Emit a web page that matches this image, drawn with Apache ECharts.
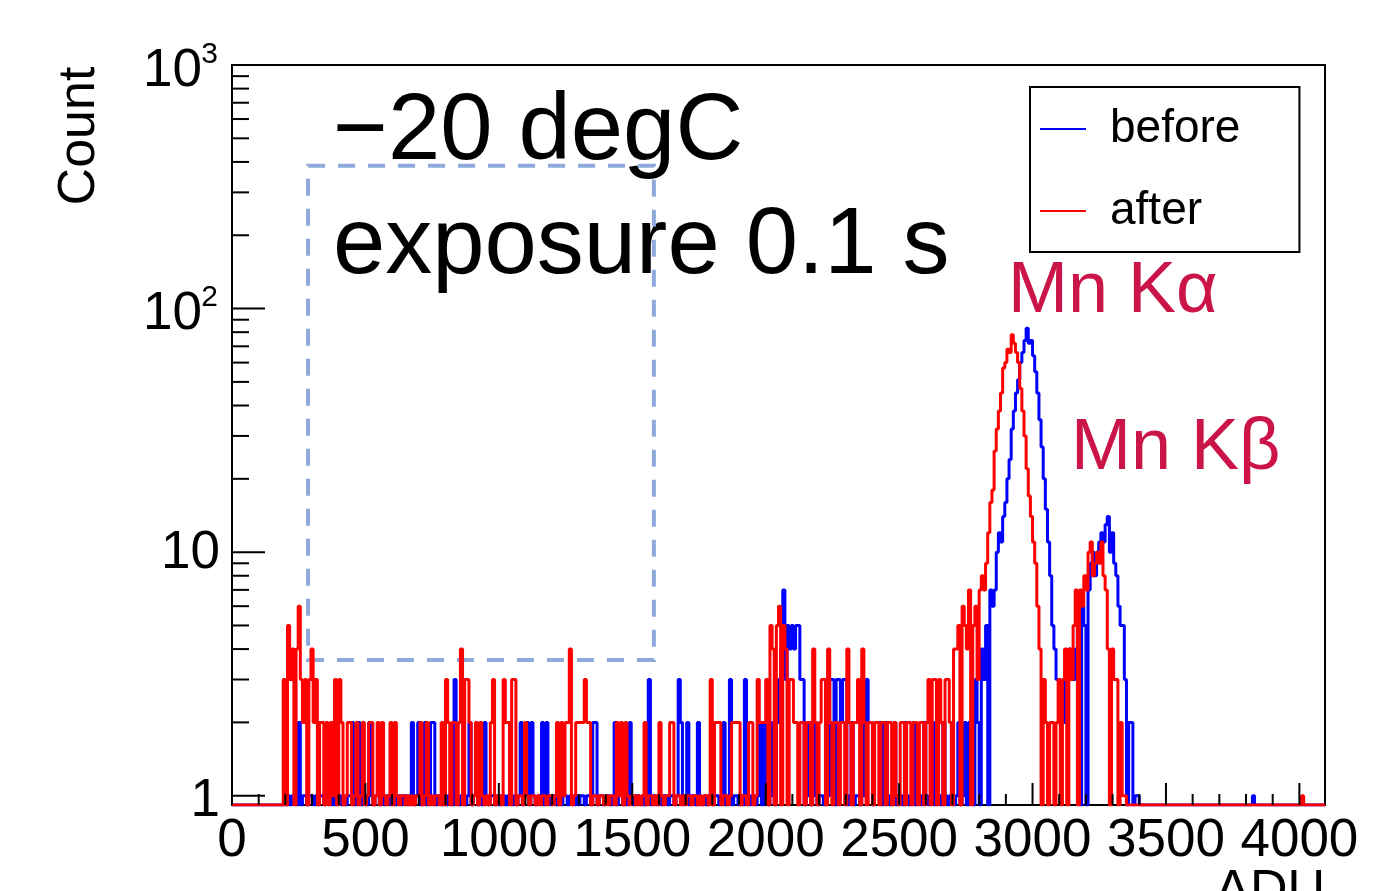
<!DOCTYPE html>
<html>
<head>
<meta charset="utf-8">
<script src="https://cdn.jsdelivr.net/npm/echarts@6/dist/echarts.min.js"></script>
<style>
html,body{margin:0;padding:0;background:#fff;}
#chart{width:1378px;height:891px;}
</style>
</head>
<body>
<div id="chart"></div>
<script>
// ---- data (histogram counts, 8-ADU bins starting at ADU 192) ----
const binWidth = 8;
const binStart = 192;
const xMax = 4096;
const yMin = 0.916;
const yMax = 1000;

const after = [
3,0,5,3,4,0,4,6,3,2,3,0,3,4,2,3,0,2,2,0,
2,0,2,1,3,0,3,2,0,1,2,2,0,1,2,0,1,2,0,1,
2,2,0,1,2,0,2,1,0,1,2,0,2,1,0,1,1,0,1,0,
1,0,1,1,2,0,1,2,0,1,0,1,1,0,2,0,3,2,0,2,
2,0,2,4,0,3,3,2,0,1,2,0,2,1,0,1,0,2,3,0,
1,1,0,3,2,2,0,3,3,0,1,1,0,2,1,0,1,1,0,1,
0,1,1,0,1,1,0,1,2,0,2,1,2,2,4,0,1,2,2,2,
2,3,2,2,0,1,1,0,1,1,0,1,0,1,1,0,2,1,2,0,
2,1,0,1,1,0,1,0,1,2,0,1,1,0,1,0,2,1,0,1,
1,2,2,0,1,1,0,1,0,1,1,0,1,1,0,1,0,1,1,0,
3,0,2,2,2,0,1,1,0,1,2,2,2,2,0,1,1,0,2,2,
0,1,3,2,2,2,3,0,5,4,0,5,6,0,5,4,0,3,3,2,
2,0,2,2,0,2,2,0,4,2,0,2,3,3,0,4,2,0,2,2,
0,2,2,0,4,2,0,2,2,3,0,4,2,0,2,2,0,2,2,0,
2,2,0,2,2,0,2,1,0,2,2,0,2,2,0,2,2,0,2,2,
0,2,3,0,3,3,0,3,2,0,3,3,2,0,4,4,5,0,6,5,
4,7,0,5,6,3,7,8,7,9,12,16,18,26,32,38,45,57,60,68,
66,78,72,66,60,47,38,30,22,17,14,11,9,6,4,0,3,2,0,2,
2,0,2,3,0,3,4,0,4,3,5,7,0,7,6,8,7,10,11,8,
9,10,9,11,8,7,4,0,4,3,3,0,2,1,1,0,0,0,0,0,0,0,0,0
];

const before = [
0,0,1,0,1,1,0,2,0,1,1,0,1,1,0,1,0,1,1,0,
1,1,0,1,0,1,1,0,1,0,1,1,2,0,1,2,0,1,1,0,
2,1,0,1,1,0,1,0,1,1,0,1,0,1,1,0,1,1,0,1,
2,0,1,2,0,1,2,0,1,2,2,0,1,1,0,1,0,1,1,0,
3,1,0,1,1,0,1,2,0,1,1,0,1,0,2,1,0,1,1,0,
1,0,1,1,0,1,1,0,1,0,1,2,0,1,2,0,2,1,0,1,
1,2,0,2,1,0,1,1,0,1,0,1,1,0,1,1,0,1,0,1,
1,0,1,1,0,2,2,0,1,1,0,1,1,0,1,2,0,1,1,0,
1,0,2,1,0,1,1,0,1,0,1,3,0,1,1,0,1,0,1,1,
0,1,1,0,1,3,2,0,1,2,0,1,1,0,2,1,0,1,0,1,
1,0,1,1,0,1,2,0,1,3,0,1,1,0,1,0,3,1,0,1,
1,0,1,2,0,2,1,0,2,1,0,2,3,4,7,3,5,4,5,4,
5,5,3,3,0,1,2,0,1,2,0,1,1,0,2,1,3,3,0,3,
3,2,3,3,0,1,2,0,1,1,0,2,1,3,2,2,0,2,2,2,
0,2,2,1,0,1,2,0,1,1,0,2,1,0,1,2,0,1,1,0,
2,1,0,1,2,0,1,1,0,2,1,0,1,2,0,1,2,0,1,2,
0,2,2,0,3,2,0,4,3,5,0,7,6,7,10,12,11,14,16,20,
24,32,38,45,51,60,66,74,83,72,74,64,55,45,35,27,20,15,11,8,
5,4,3,3,2,3,2,3,4,3,3,4,5,0,6,5,0,7,9,10,
8,10,11,12,11,13,14,10,12,9,8,6,5,5,3,0,2,2,0,1,1,0,0,0
];

// isolated counts beyond the main range [ADU, count]
const beforeExtra = [[3824, 1]];
const afterExtra = [[4008, 1]];

// axis ticks
const xMajorTicks = [0, 500, 1000, 1500, 2000, 2500, 3000, 3500, 4000];
const yMajorTicks = [1, 10, 100, 1000];
const xMinorTicks = [];
for (let v = 100; v < 4000; v += 100) if (v % 500 !== 0) xMinorTicks.push(v);
const yMinorTicks = [];
[1, 10, 100].forEach(d => { for (let k = 2; k <= 9; k++) yMinorTicks.push(k * d); });

// annotation box (data coords)
const boxX = [285, 1581];
const boxY = [3.61, 386];

// ---- build histogram step lines ----
function buildSteps(vals, extra) {
  const nb = Math.ceil(xMax / binWidth);
  const counts = new Array(nb).fill(0);
  const off = binStart / binWidth;
  vals.forEach((v, i) => { counts[off + i] = v; });
  extra.forEach(([x, c]) => { counts[Math.floor(x / binWidth)] = c; });
  const pts = counts.map((c, k) => [k * binWidth, c > 0 ? c : yMin]);
  pts.push([xMax, yMin]);
  return pts;
}

const FONT = 'Liberation Sans, Arial, Helvetica, sans-serif';
const chart = echarts.init(document.getElementById('chart'));

const option = {
  animation: false,
  backgroundColor: '#fff',
  grid: {
    left: 232, top: 65, width: 1093, height: 740,
    show: true, borderColor: '#000', borderWidth: 2, backgroundColor: 'transparent'
  },
  legend: {
    data: ['before', 'after'],
    orient: 'vertical',
    left: 1030, top: 87,
    padding: [15, 59, 14, 10],
    itemGap: 28,
    itemWidth: 46, itemHeight: 2,
    icon: 'rect',
    borderColor: '#000', borderWidth: 2,
    backgroundColor: '#fff',
    textStyle: { fontSize: 46, lineHeight: 46, color: '#000', fontFamily: FONT, padding: [8, 0, 0, 19] }
  },
  xAxis: {
    type: 'value', min: 0, max: xMax, interval: 500,
    axisLine: { show: false }, axisTick: { show: false }, splitLine: { show: false },
    axisLabel: {
      fontSize: 53, color: '#000', fontFamily: FONT, margin: 10,
      formatter: v => (v % 500 === 0 && v <= 4000) ? String(v) : ''
    }
  },
  yAxis: {
    type: 'log', logBase: 10, min: yMin, max: yMax,
    axisLine: { show: false }, axisTick: { show: false }, splitLine: { show: false },
    axisLabel: { show: false }
  },
  series: [
    {
      name: 'before', type: 'line', step: 'end', symbol: 'none',
      color: '#0000ff',
      lineStyle: { color: '#0000ff', width: 3 },
      data: buildSteps(before, beforeExtra),
      z: 3,
      markArea: {
        silent: true,
        label: { show: false },
        itemStyle: { color: 'rgba(0,0,0,0)', borderColor: '#8eaadb', borderWidth: 4, borderType: [17, 13] },
        data: [[{ coord: [boxX[0], boxY[1]] }, { coord: [boxX[1], boxY[0]] }]]
      }
    },
    {
      name: 'after', type: 'line', step: 'end', symbol: 'none',
      color: '#ff0000',
      lineStyle: { color: '#ff0000', width: 3 },
      data: buildSteps(after, afterExtra),
      z: 4
    },
    {
      name: 'ticks', type: 'custom', silent: true, z: 10,
      data: [[0, 1]],
      renderItem: (params, api) => {
        const children = [];
        const origin = api.coord([0, yMin]);
        const bottom = origin[1], left = origin[0];
        const st = { stroke: '#000', lineWidth: 2 };
        const xt = (vals, len) => vals.forEach(v => {
          const p = api.coord([v, yMin]);
          children.push({ type: 'line', shape: { x1: p[0], y1: bottom, x2: p[0], y2: bottom - len }, style: st });
        });
        const yt = (vals, len) => vals.forEach(v => {
          const p = api.coord([0, v]);
          children.push({ type: 'line', shape: { x1: left, y1: p[1], x2: left + len, y2: p[1] }, style: st });
        });
        xt(xMajorTicks, 22); xt(xMinorTicks, 11);
        yt(yMajorTicks, 33); yt(yMinorTicks, 17);
        // y tick labels (ROOT style 1, 10, 10^2, 10^3)
        const txt = (s, x, y, size) => children.push({
          type: 'text', x, y,
          style: { text: s, fontSize: size, fontFamily: FONT, fill: '#000', align: 'right', verticalAlign: 'middle' }
        });
        yMajorTicks.forEach(v => {
          const p = api.coord([0, v]);
          const e = Math.round(Math.log10(v));
          if (e === 0) txt('1', left - 12, p[1] + 6, 53);
          else if (e === 1) txt('10', left - 12, p[1] + 1, 53);
          else {
            txt('10', left - 30, p[1] + 6, 53);
            txt(String(e), left - 14, p[1] - 10.5, 30);
          }
        });
        return { type: 'group', children };
      }
    }
  ],
  graphic: [
    { type: 'text', x: 80, y: 136, rotation: Math.PI / 2,
      style: { text: 'Count', fontSize: 52, fontFamily: FONT, fill: '#000', align: 'center', verticalAlign: 'middle' } },
    { type: 'text', x: 1325, y: 892,
      style: { text: 'ADU', fontSize: 52, fontFamily: FONT, fill: '#000', align: 'right', verticalAlign: 'middle' } },
    { type: 'text', x: 333, y: 133,
      style: { text: '\u221220 degC', fontSize: 94, fontFamily: FONT, fill: '#000', align: 'left', verticalAlign: 'middle' } },
    { type: 'text', x: 333, y: 247,
      style: { text: 'exposure 0.1 s', fontSize: 94, fontFamily: FONT, fill: '#000', align: 'left', verticalAlign: 'middle' } },
    { type: 'text', x: 1008, y: 292,
      style: { text: 'Mn K\u03b1', fontSize: 72, fontFamily: FONT, fill: '#cb1548', align: 'left', verticalAlign: 'middle' } },
    { type: 'text', x: 1071, y: 449,
      style: { text: 'Mn K\u03b2', fontSize: 72, fontFamily: FONT, fill: '#cb1548', align: 'left', verticalAlign: 'middle' } }
  ]
};
chart.setOption(option);
</script>
</body>
</html>
